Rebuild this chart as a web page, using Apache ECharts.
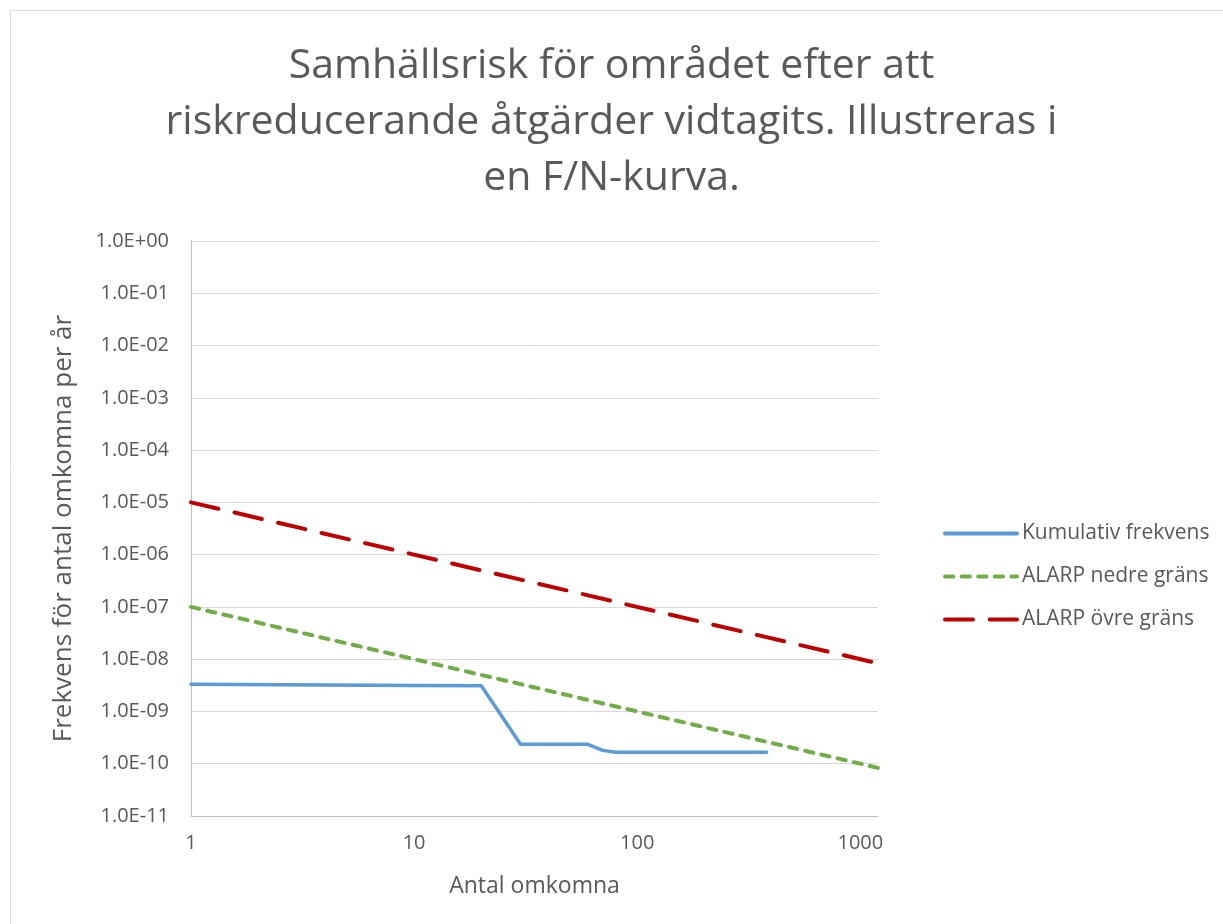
<!DOCTYPE html>
<html>
<head>
<meta charset="utf-8">
<title>F/N-kurva</title>
<script src="https://cdn.jsdelivr.net/npm/echarts@6/dist/echarts.min.js"></script>
<style>
  html, body { margin: 0; padding: 0; background: #fff; }
  #main { width: 1223px; height: 924px; }
</style>
</head>
<body>
<div id="main"></div>
<script type="text/javascript">
// data
var kumulativN = [1, 10, 20, 30, 60, 70, 80, 380];
var kumulativF = [3.3e-9, 3.12e-9, 3.09e-9, 2.35e-10, 2.35e-10, 1.8e-10, 1.66e-10, 1.66e-10];
var alarpN = [1, 1200];
var nedreF = [1e-7, 8.33e-11];
var ovreF = [1e-5, 8.33e-9];

function pairs(xs, ys) {
    var out = [];
    for (var i = 0; i < xs.length; i++) out.push([xs[i], ys[i]]);
    return out;
}

// 1.0E-05 style labels
function sciLabel(v) {
    var e = Math.round(Math.log10(v));
    var s = e < 0 ? '-' : '+';
    var a = Math.abs(e);
    return '1.0E' + s + (a < 10 ? '0' + a : a);
}

var myChart = echarts.init(document.getElementById('main'));
var txt = '#595959';
var font = 'Open Sans';

option = {
    backgroundColor: '#fff',
    animation: false,
    graphic: [{
        type: 'rect',
        shape: { x: 10.5, y: 10.5, width: 1240, height: 940 },
        style: { fill: 'none', stroke: '#d9d9d9', lineWidth: 1 }
    }],
    title: {
        text: 'Samhällsrisk för området efter att\nriskreducerande åtgärder vidtagits. Illustreras i\nen F/N-kurva.',
        left: 'center',
        top: 33,
        textStyle: {
            fontFamily: font,
            fontWeight: 'normal',
            fontSize: 41,
            lineHeight: 56,
            color: txt
        }
    },
    legend: {
        orient: 'vertical',
        left: 938,
        top: 518,
        itemWidth: 72,
        itemHeight: 20,
        itemGap: 22,
        itemStyle: { opacity: 0 },
        lineStyle: { width: 4, opacity: 1 },
        textStyle: { fontFamily: font, fontSize: 21, color: txt },
        data: ['Kumulativ frekvens', 'ALARP nedre gräns', 'ALARP övre gräns']
    },
    grid: { left: 191, right: 345, top: 241, bottom: 108, containLabel: false },
    xAxis: {
        type: 'log',
        logBase: 10,
        min: 1,
        max: 1200,
        interval: 1,
        name: 'Antal omkomna',
        nameLocation: 'middle',
        nameGap: 59,
        nameTextStyle: { fontFamily: font, fontSize: 23, color: txt },
        axisLine: { show: true, lineStyle: { color: '#bfbfbf', width: 1 } },
        axisTick: { show: false },
        splitLine: { show: false },
        axisLabel: {
            fontFamily: font, fontSize: 20, color: txt, margin: 17,
            showMaxLabel: false,
            formatter: function (v) {
                var e = Math.log10(v);
                if (Math.abs(e - Math.round(e)) > 1e-6) return '';
                return String(Math.round(v));
            }
        }
    },
    yAxis: {
        type: 'log',
        logBase: 10,
        min: 1e-11,
        max: 1,
        interval: 1,
        name: 'Frekvens för antal omkomna per år',
        nameLocation: 'middle',
        nameGap: 114,
        nameRotate: 90,
        nameTextStyle: { fontFamily: font, fontSize: 26, color: txt },
        axisLine: { show: true, lineStyle: { color: '#bfbfbf', width: 1 } },
        axisTick: { show: false },
        splitLine: { show: true, lineStyle: { color: '#d9d9d9', width: 1 } },
        axisLabel: {
            fontFamily: font, fontSize: 20, color: txt, margin: 22,
            formatter: sciLabel
        }
    },
    series: [{
        name: 'Kumulativ frekvens',
        type: 'line',
        data: pairs(kumulativN, kumulativF),
        showSymbol: false,
        symbol: 'none',
        lineStyle: { color: '#5B9BD5', width: 3.5, cap: 'round', join: 'round' },
        itemStyle: { color: '#5B9BD5' }
    }, {
        name: 'ALARP nedre gräns',
        type: 'line',
        data: pairs(alarpN, nedreF),
        showSymbol: false,
        symbol: 'none',
        lineStyle: { color: '#70AD47', width: 4, type: [8.3, 8.3], cap: 'round' },
        itemStyle: { color: '#70AD47' }
    }, {
        name: 'ALARP övre gräns',
        type: 'line',
        data: pairs(alarpN, ovreF),
        showSymbol: false,
        symbol: 'none',
        lineStyle: { color: '#C00000', width: 4, type: [28, 16.7], cap: 'round' },
        itemStyle: { color: '#C00000' }
    }]
};

myChart.setOption(option);
</script>
</body>
</html>
